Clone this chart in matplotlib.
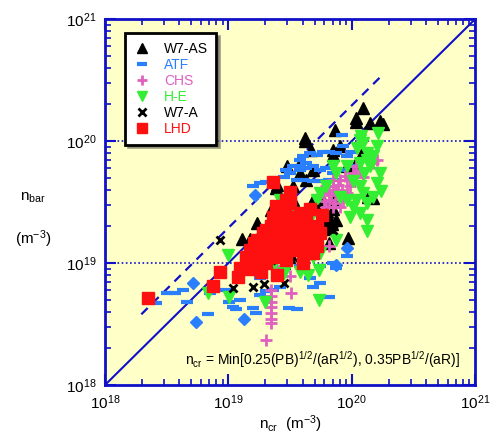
import numpy as np
import matplotlib
matplotlib.use("Agg")
import matplotlib.pyplot as plt

plt.rcParams['font.family'] = ['Liberation Sans', 'DejaVu Sans']
plt.rcParams['mathtext.fontset'] = 'custom'
plt.rcParams['mathtext.rm'] = 'Liberation Sans'
plt.rcParams['mathtext.it'] = 'Liberation Sans'

# values in units of 1e19 m^-3 : (n_cr, n_bar)
w7as = [(12.3, 18.7), (10.8, 15.5), (10.8, 14.4), (14.2, 14.1), (16.9, 14.5), (18.0, 13.8),
        (7.3, 12.4), (4.2, 10.7), (4.2, 10.0), (4.7, 8.5), (7.1, 8.5), (8.0, 9.1), (7.1, 7.7),
        (11.8, 7.7), (10.8, 6.6), (9.1, 6.2), (4.9, 5.8), (3.8, 5.5), (4.3, 4.8), (2.5, 4.4),
        (2.45, 4.1), (3.35, 3.3), (14.9, 3.4), (13.6, 3.5), (2.2, 2.7), (6.2, 2.6), (6.6, 1.9),
        (7.1, 3.3), (1.7, 2.15), (1.3, 1.57), (1.5, 1.57), (9.3, 1.6), (6.6, 1.45), (5.5, 2.27),
        (7.5, 2.27), (7.1, 2.75), (5.9, 3.3), (4.9, 3.3), (3.35, 4.26), (3.0, 6.2), (3.8, 6.6),
        (3.1, 1.13), (2.8, 1.0), (6.9, 2.1), (6.4, 2.4)]

atf = [(0.26, 0.47), (0.32, 0.57), (0.37, 0.57), (0.43, 0.60), (0.46, 0.48), (0.71, 0.57),
       (0.68, 0.38), (0.96, 0.60), (1.02, 0.48), (1.09, 0.44), (1.16, 0.42), (1.58, 0.43),
       (1.69, 0.39), (1.8, 0.55), (2.03, 0.59), (2.3, 0.60), (2.6, 0.64), (3.1, 0.43),
       (3.6, 0.42), (4.9, 0.64), (5.5, 0.69), (6.6, 0.53), (7.1, 1.0), (7.5, 0.91), (9.1, 1.15),
       (4.6, 0.75), (1.58, 0.94), (1.8, 0.75), (1.24, 0.50), (3.8, 0.94), (5.5, 0.94),
       (1.8, 4.5), (2.03, 4.6), (1.58, 4.26), (2.8, 5.1), (3.15, 5.5), (3.35, 6.2), (3.8, 6.2),
       (4.3, 6.0), (4.9, 6.2), (5.5, 5.8), (6.2, 6.0), (7.1, 5.5), (8.0, 5.8), (4.0, 7.5),
       (4.6, 8.0), (5.2, 7.7), (5.8, 8.2), (6.6, 8.2), (7.5, 8.0), (9.1, 7.5), (9.9, 8.2),
       (3.6, 4.8), (4.0, 4.8), (4.9, 4.7), (5.5, 4.7), (3.8, 7.0), (4.3, 6.6), (6.6, 4.8),
       (7.5, 4.8), (10.3, 6.2), (8.5, 9.1), (8.3, 11.3), (2.96, 5.8), (3.8, 5.8)]

atf_diamonds = [(0.52, 0.69), (0.55, 0.33), (1.33, 0.35), (1.64, 3.6), (9.1, 1.33), (7.5, 0.97)]

chs = [(2.23, 0.60), (2.23, 0.54), (2.23, 0.48), (2.23, 0.44), (2.23, 0.39), (2.23, 0.35),
       (2.23, 0.32), (2.03, 0.235), (3.25, 0.57), (3.15, 0.79), (6.6, 1.37), (1.7, 1.06),
       (2.45, 0.94), (7.1, 4.26), (7.5, 3.75), (8.0, 4.8), (9.1, 4.8), (10.3, 5.5), (11.6, 5.8),
       (14.9, 6.6), (15.9, 7.0), (6.6, 3.3), (6.2, 2.9), (9.6, 4.26), (7.1, 4.8), (8.5, 3.3),
       (5.5, 2.57), (7.1, 2.9), (12.3, 5.1), (7.5, 4.0), (5.9, 3.75), (9.1, 3.75), (10.8, 6.2),
       (8.0, 2.9), (6.2, 4.26), (6.8, 3.6), (7.8, 4.4), (8.4, 4.0), (6.5, 3.9), (7.3, 3.1),
       (8.8, 5.2), (9.8, 5.0), (6.0, 3.2)]

he = [(11.6, 10.3), (12.3, 9.6), (16.3, 11.7), (15.9, 9.06), (13.2, 8.0), (11.6, 6.6),
      (13.2, 7.0), (14.9, 7.5), (14.0, 6.2), (16.9, 5.5), (15.9, 4.5), (17.4, 3.9), (12.3, 3.75),
      (13.2, 3.1), (10.3, 2.9), (11.6, 2.57), (13.2, 2.27), (13.2, 1.82), (9.1, 3.3), (8.0, 3.5),
      (10.3, 4.7), (9.1, 6.2), (7.5, 5.5), (5.5, 3.75), (5.2, 3.3), (4.9, 2.57), (4.3, 2.27),
      (5.5, 1.76), (7.5, 1.55), (5.5, 1.21), (4.9, 1.13), (4.3, 1.21), (3.8, 0.85), (4.4, 0.80),
      (5.4, 0.87), (5.4, 0.50), (1.97, 0.48), (1.02, 0.53), (0.68, 0.57), (1.0, 1.17),
      (2.3, 0.94), (2.8, 0.83), (2.96, 3.1), (3.35, 2.57), (3.8, 2.27), (11.6, 4.26),
      (7.1, 6.2), (9.6, 2.4), (10.8, 3.3), (14.9, 3.5), (12.7, 5.5), (2.6, 3.3), (3.15, 3.5),
      (6.2, 4.26), (11.0, 8.8), (12.0, 11.0)]

w7a = [(0.85, 1.55), (1.09, 0.62), (1.57, 0.64), (1.95, 0.67), (2.8, 0.69), (6.6, 2.27),
       (7.1, 1.88), (6.2, 2.0), (5.9, 2.57), (5.2, 2.9), (2.2, 1.06), (3.35, 1.13), (3.8, 1.28)]

lhd = [(0.223, 0.516), (0.75, 0.65), (0.86, 0.84), (1.2, 0.77), (1.25, 0.91), (1.5, 0.89),
       (1.85, 0.85), (2.5, 0.80), (2.3, 4.6), (3.15, 3.8), (2.45, 2.92), (2.9, 2.8), (4.6, 2.8),
       (5.7, 2.5), (4.0, 1.0), (1.58, 1.06), (1.8, 1.21), (2.03, 1.37), (2.3, 1.55), (2.6, 1.76),
       (2.96, 1.88), (3.35, 2.0), (3.8, 1.76), (4.3, 1.65), (4.9, 1.55), (5.5, 1.76), (5.2, 2.0),
       (1.7, 1.55), (1.9, 1.76), (2.2, 2.0), (2.45, 2.13), (2.8, 2.27), (3.15, 2.4), (3.6, 2.13),
       (4.0, 2.0), (4.6, 1.88), (2.03, 1.0), (2.3, 1.13), (2.6, 1.21), (2.96, 1.06), (3.35, 1.29),
       (3.8, 1.37), (4.3, 1.21), (4.9, 1.21), (1.8, 1.37), (1.5, 1.29), (1.4, 1.13), (2.3, 2.4),
       (2.8, 2.57), (3.35, 1.76), (4.0, 1.55), (3.15, 1.46), (2.6, 1.46), (2.03, 1.88),
       (3.15, 3.1), (3.8, 2.57), (5.2, 1.37), (2.96, 3.3), (1.8, 0.94),
       (2.1, 1.6), (2.45, 1.65), (2.8, 1.6), (3.1, 1.7), (3.6, 1.9), (4.2, 1.85), (4.6, 1.35),
       (3.6, 1.5), (2.45, 1.3), (1.95, 1.2), (3.3, 2.25), (4.3, 2.2), (2.6, 2.0), (1.6, 1.45)]

# dashed boundary line (units of 1e19)
dash_x = [0.197, 17.5]
dash_y = [0.38, 34.4]

BLUE = '#1010c8'
c_atf = '#2a7fff'
c_chs = '#e060c0'
c_he = '#33ee33'
c_lhd = '#ff1010'


def xy(pts):
    a = np.array(pts) * 1e19
    return a[:, 0], a[:, 1]


fig = plt.figure(figsize=(4.94, 4.36), dpi=100)
ax = fig.add_axes([0.2126, 0.117, 0.749, 0.839])
ax.set_facecolor('#ffffc8')
ax.set_xscale('log')
ax.set_yscale('log')
ax.set_xlim(1e18, 1e21)
ax.set_ylim(1e18, 1e21)

for yv in [1e19, 1e20]:
    ax.axhline(yv, color=BLUE, ls=(0, (1, 1.5)), lw=1.2, zorder=1)

ax.plot([1e18, 1e21], [1e18, 1e21], color=BLUE, lw=1.5, zorder=2)
ax.plot(np.array(dash_x) * 1e19, np.array(dash_y) * 1e19, color=BLUE, lw=1.6,
        ls=(0, (4, 3)), zorder=2)

x, y = xy(w7as)
ax.plot(x, y, '^', color='black', ms=8, ls='none', label='W7-AS', zorder=3)
x, y = xy(atf)
ax.plot(x, y, '_', color=c_atf, ms=9, mew=3, ls='none', label='ATF', zorder=3)
x, y = xy(atf_diamonds)
ax.plot(x, y, 'D', color=c_atf, ms=6.5, ls='none', zorder=3)
x, y = xy(chs)
ax.plot(x, y, '+', color=c_chs, ms=9, mew=2, ls='none', label='CHS', zorder=4)
x, y = xy(he)
ax.plot(x, y, 'v', color=c_he, ms=8, ls='none', label='H-E', zorder=4)
x, y = xy(w7a)
ax.plot(x, y, 'x', color='black', ms=6, mew=2, ls='none', label='W7-A', zorder=5)
x, y = xy(lhd)
ax.plot(x, y, 's', color=c_lhd, ms=8, ls='none', label='LHD', zorder=5)

for s in ax.spines.values():
    s.set_color(BLUE)
    s.set_linewidth(2)
ax.tick_params(which='both', direction='in', color=BLUE, top=True, right=True,
               labelsize=11, pad=6)
ax.tick_params(which='major', length=8, width=1.5)
ax.tick_params(which='minor', length=4, width=1.2)

leg = ax.legend(loc='upper left', bbox_to_anchor=(0.035, 0.98), fontsize=10,
                frameon=True, fancybox=False, shadow=True, handletextpad=1.0,
                borderpad=0.6, labelspacing=0.15, handlelength=1.2, markerscale=0.85)
leg.get_frame().set_edgecolor('black')
leg.get_frame().set_linewidth(2)
for t, c in zip(leg.get_texts(), ['black', c_atf, c_chs, c_he, 'black', c_lhd]):
    t.set_color(c)

ax.text(0.96, 0.07, r'n$_{\rm cr}$ = Min[0.25(PB)$^{1/2}$/(aR$^{1/2}$), 0.35PB$^{1/2}$/(aR)]',
        transform=ax.transAxes, ha='right', va='center', fontsize=10)

fig.text(0.04, 0.54, r'n$_{\rm bar}$', fontsize=11, ha='left')
fig.text(0.03, 0.44, r'(m$^{-3}$)', fontsize=11, ha='left')
ax.set_xlabel(r'n$_{\rm cr}$  (m$^{-3}$)', fontsize=11, labelpad=1)

fig.savefig('out.png', dpi=100)
